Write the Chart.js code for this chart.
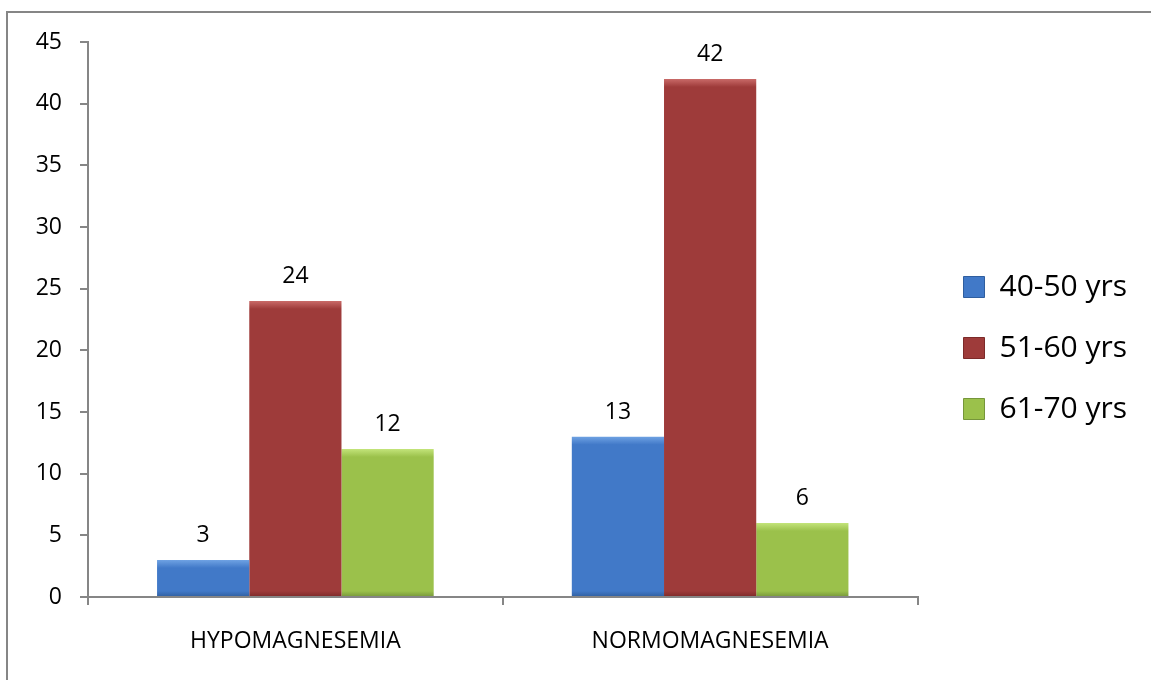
<!DOCTYPE html>
<html>
<head>
<meta charset="utf-8">
<script src="https://cdn.jsdelivr.net/npm/chart.js@4.4.0/dist/chart.umd.min.js"></script>
<style>
  html, body { margin: 0; padding: 0; background: #fff; overflow: hidden; }
  #frame { position: absolute; left: 6px; top: 11px; width: 1200px; height: 720px; border: 2px solid #868686; }
  #wrap { position: absolute; left: 0; top: 0; width: 1151px; height: 680px; }
</style>
</head>
<body>
<div id="frame"></div>
<div id="wrap"><canvas id="plot"></canvas></div>
<script>
var categories = ['HYPOMAGNESEMIA', 'NORMOMAGNESEMIA']
var seriesNames = ['40-50 yrs', '51-60 yrs', '61-70 yrs']
var age40to50 = [3, 13]
var age51to60 = [24, 42]
var age61to70 = [12, 6]
var yTicks = [0, 5, 10, 15, 20, 25, 30, 35, 40, 45]

// main colour, light top, dark bottom
var palette = [
    ['#4179c8', '#6fa2e3', '#2f5e9f'],
    ['#9e3b3a', '#c96a68', '#7c2a29'],
    ['#9bc14b', '#c3e47a', '#76963a']
]

var FONT = "'Open Sans', 'Liberation Sans', sans-serif"

function barFill(ctx) {
    var p = palette[ctx.datasetIndex]
    if (ctx.type !== 'data') return p[0]
    var ys = ctx.chart.scales.y
    if (!ys) return p[0]
    var top = ys.getPixelForValue(ctx.raw)
    var bot = ys.getPixelForValue(0)
    var h = bot - top
    if (!isFinite(h) || h <= 0) return p[0]
    var g = ctx.chart.ctx.createLinearGradient(0, top, 0, bot)
    var a = Math.min(8 / h, 0.3)
    var b = Math.max(1 - 6 / h, 0.7)
    g.addColorStop(0, p[1])
    g.addColorStop(a, p[0])
    g.addColorStop(b, p[0])
    g.addColorStop(1, p[2])
    return g
}

var valueLabels = {
    id: 'valueLabels',
    afterDatasetsDraw: function (chart) {
        var c = chart.ctx
        c.save()
        c.font = '23px ' + FONT
        c.fillStyle = '#000'
        c.textAlign = 'center'
        c.textBaseline = 'alphabetic'
        chart.data.datasets.forEach(function (ds, i) {
            chart.getDatasetMeta(i).data.forEach(function (bar, j) {
                c.fillText(String(ds.data[j]), bar.x, bar.y - 18)
            })
        })
        c.restore()
    }
}

// legend text is a bit wider than chart.js measures, let it run to the edge
var legendRoom = {
    id: 'legendRoom',
    afterLayout: function (chart) {
        if (chart.legend) chart.legend.right = chart.width
    }
}

var seriesData = [age40to50, age51to60, age61to70]
var datasets = seriesNames.map(function (name, i) {
    return {
        label: name,
        data: seriesData[i],
        backgroundColor: barFill,
        borderWidth: 0,
        barPercentage: 1,
        categoryPercentage: 0.667
    }
})

new Chart(document.getElementById('plot'), {
    type: 'bar',
    data: { labels: categories, datasets: datasets },
    plugins: [valueLabels, legendRoom],
    options: {
        responsive: true,
        maintainAspectRatio: false,
        animation: false,
        layout: { padding: { left: 0, top: 42, bottom: 26, right: 32 } },
        plugins: {
            tooltip: { enabled: false },
            legend: {
                position: 'right',
                align: 'center',
                labels: {
                    font: { family: FONT, size: 30 },
                    color: '#000',
                    boxWidth: 21,
                    boxHeight: 21,
                    padding: 31,
                    generateLabels: function (chart) {
                        var items = Chart.defaults.plugins.legend.labels.generateLabels(chart)
                        items.forEach(function (it, i) {
                            it.fillStyle = palette[i][0]
                            it.strokeStyle = palette[i][2]
                            it.lineWidth = 1
                        })
                        return items
                    }
                }
            }
        },
        scales: {
            x: {
                grid: { drawOnChartArea: false, tickLength: 8, color: '#868686', lineWidth: 2, offset: true },
                border: { color: '#868686', width: 2 },
                ticks: { font: { family: FONT, size: 23 }, color: '#000', padding: 23 },
                afterFit: function (s) { s.height = 57 }
            },
            y: {
                min: 0,
                max: 45,
                afterBuildTicks: function (s) { s.ticks = yTicks.map(function (v) { return { value: v } }) },
                grid: { drawOnChartArea: false, tickLength: 8, color: '#868686', lineWidth: 2 },
                border: { color: '#868686', width: 2 },
                ticks: { font: { family: FONT, size: 23 }, color: '#000', padding: 18 },
                afterFit: function (s) { s.width = 88 }
            },
            gap: {
                type: 'linear',
                position: 'right',
                grid: { display: false },
                border: { display: false },
                ticks: { display: false },
                afterFit: function (s) { s.width = 15 }
            }
        }
    }
})
</script>
</body>
</html>
